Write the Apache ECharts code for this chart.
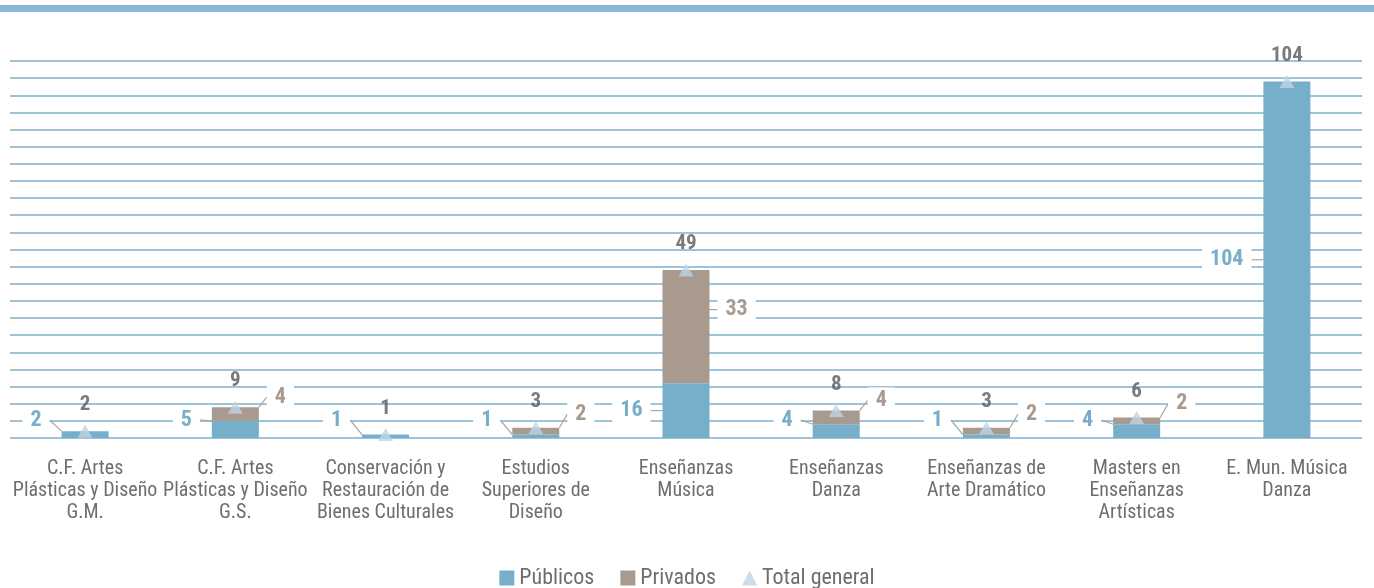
<!DOCTYPE html>
<html>
<head>
<meta charset="utf-8">
<script src="https://cdn.jsdelivr.net/npm/echarts@6/dist/echarts.min.js"></script>
<style>
html,body{margin:0;padding:0;background:#fff;}
#c{width:1374px;height:588px;}
</style>
</head>
<body>
<div id="c"></div>
<script>
const categories = [
  'C.F. Artes\nPlásticas y Diseño\nG.M.',
  'C.F. Artes\nPlásticas y Diseño\nG.S.',
  'Conservación y\nRestauración de\nBienes Culturales',
  'Estudios\nSuperiores de\nDiseño',
  'Enseñanzas\nMúsica',
  'Enseñanzas\nDanza',
  'Enseñanzas de\nArte Dramático',
  'Masters en\nEnseñanzas\nArtísticas',
  'E. Mun. Música\nDanza'
];
const publicos = [2, 5, 1, 1, 16, 4, 1, 4, 104];
const privados = [0, 4, 0, 2, 33, 4, 2, 2, 0];
const totalGeneral = [2, 9, 1, 3, 49, 8, 3, 6, 104];
const seriesNames = ['Públicos', 'Privados', 'Total general'];

const FONT = "'Liberation Sans Narrow','Roboto Condensed','DejaVu Sans Condensed','Arial Narrow',Roboto,sans-serif";
const C_PUB = '#77AEC9';
const C_PRI = '#A89A8F';
const C_TOT = '#BDD4E3';

const chart = echarts.init(document.getElementById('c'), null, {renderer: 'canvas'});
chart.setOption({
  animation: false,
  textStyle: {fontFamily: FONT},
  graphic: [{
    type: 'rect', shape: {x: 0, y: 5, width: 1374, height: 7},
    style: {fill: '#8BB8D6'}, silent: true
  }],
  grid: {left: 10, right: 12, top: 61, bottom: 150, containLabel: false},
  legend: {
    top: 562, left: 'center',
    itemWidth: 15, itemHeight: 15, itemGap: 26,
    textStyle: {fontFamily: FONT, fontSize: 22, color: '#6E6E6E'},
    data: [
      {name: seriesNames[0], icon: 'rect'},
      {name: seriesNames[1], icon: 'rect'},
      {name: seriesNames[2], icon: 'triangle'}
    ]
  },
  xAxis: {
    type: 'category', data: categories,
    axisLine: {show: false}, axisTick: {show: false},
    axisLabel: {interval: 0, margin: 20, fontFamily: FONT, fontSize: 20, lineHeight: 22, color: '#6E6E6E'}
  },
  yAxis: {
    type: 'value', min: 0, max: 110, interval: 5,
    axisLabel: {show: false}, axisLine: {show: false}, axisTick: {show: false},
    splitLine: {lineStyle: {color: '#7DB1CE', width: 1.6}}
  },
  series: [
    {
      name: seriesNames[0], type: 'bar', stack: 's', barWidth: 47,
      itemStyle: {color: C_PUB},
      data: publicos,
      label: {
        show: true, position: 'left', fontFamily: FONT, fontSize: 22, fontWeight: 'bold',
        color: C_PUB, backgroundColor: '#fff', padding: [2, 8]
      },
      labelLine: {show: true, lineStyle: {color: '#A6A6A6', width: 1.2}},
      labelLayout: function (p) {
        const r = p.rect;
        return {
          x: r.x - 12, y: Math.min(r.y + r.height / 2, r.y + r.height - 18),
          align: 'right', verticalAlign: 'middle'
        };
      }
    },
    {
      name: seriesNames[1], type: 'bar', stack: 's', barWidth: 47,
      itemStyle: {color: C_PRI},
      data: privados.map(v => v === 0 ? '-' : v),
      label: {
        show: true, position: 'right', fontFamily: FONT, fontSize: 22, fontWeight: 'bold',
        color: C_PRI, backgroundColor: '#fff', padding: [2, 8]
      },
      labelLine: {show: true, lineStyle: {color: '#A6A6A6', width: 1.2}},
      labelLayout: function (p) {
        const r = p.rect;
        return {
          x: r.x + r.width + 8, y: r.y + r.height / 2 - 17,
          align: 'left', verticalAlign: 'middle'
        };
      }
    },
    {
      name: seriesNames[2], type: 'scatter', symbol: 'triangle', symbolSize: [15, 13],
      itemStyle: {color: C_TOT},
      data: totalGeneral,
      z: 5,
      label: {
        show: true, position: 'top', distance: 9, fontFamily: FONT, fontSize: 21, fontWeight: 'bold',
        color: '#595959'
      }
    }
  ]
});
</script>
</body>
</html>
